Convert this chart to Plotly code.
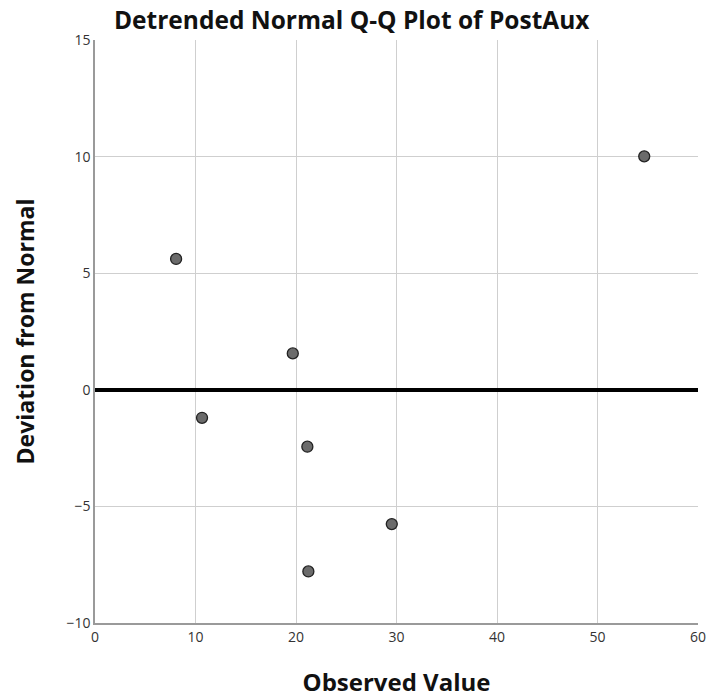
import plotly.graph_objects as go

# Observed values and their deviation from the normal expectation
observed = [8.07, 10.65, 19.68, 21.13, 21.23, 29.53, 54.65]
deviation = [5.61, -1.20, 1.56, -2.44, -7.79, -5.76, 10.01]

x_ticks = [0, 10, 20, 30, 40, 50, 60]
y_ticks = [-10, -5, 0, 5, 10, 15]

font_family = "Open Sans, DejaVu Sans, sans-serif"

fig = go.Figure()
fig.add_trace(go.Scatter(
    x=observed, y=deviation, mode="markers",
    marker=dict(size=11, color="#6b6b6b", line=dict(color="#222", width=1.3)),
    showlegend=False,
))

fig.update_layout(
    width=712, height=700,
    margin=dict(l=95, r=14, t=40, b=77),
    paper_bgcolor="white", plot_bgcolor="white",
    title=dict(text="<b>Detrended Normal Q-Q Plot of PostAux</b>",
               x=0.494, xanchor="center", y=0.971, yanchor="middle",
               font=dict(family=font_family, size=24.5, color="#111")),
    font=dict(family=font_family, color="#222"),
)
fig.update_xaxes(
    range=[0, 60], tickvals=x_ticks, showgrid=True, gridcolor="#cfcfcf", gridwidth=1,
    zeroline=False, showline=True, linecolor="#9a9a9a", linewidth=1.5,
    ticks="", tickfont=dict(size=14, color="#333"), automargin=False,
    title=dict(text="<b>Observed Value</b>", font=dict(size=24, color="#111"), standoff=30),
)
fig.update_yaxes(
    range=[-10, 15], tickvals=y_ticks, showgrid=True, gridcolor="#cfcfcf", gridwidth=1,
    zeroline=True, zerolinecolor="black", zerolinewidth=3.5,
    showline=True, linecolor="#9a9a9a", linewidth=1.5,
    ticks="", tickfont=dict(size=14, color="#333"), automargin=False,
    title=dict(text="<b>Deviation from Normal</b>", font=dict(size=23, color="#111"), standoff=25),
)

fig.write_html("out.html")
